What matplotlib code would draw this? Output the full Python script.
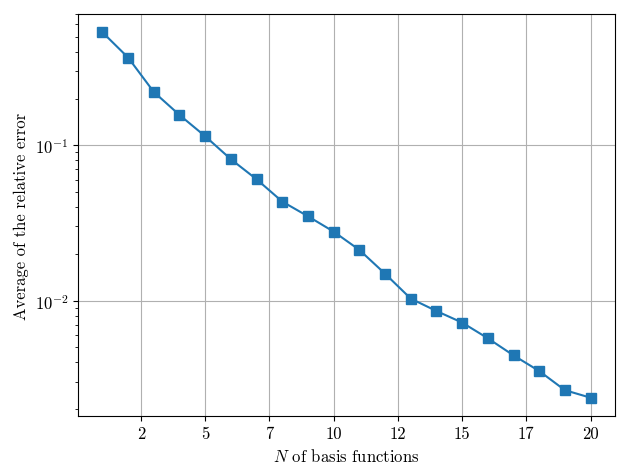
import matplotlib
matplotlib.use("Agg")
import matplotlib.pyplot as plt
from matplotlib.ticker import FormatStrFormatter

plt.rcParams["font.family"] = "serif"
plt.rcParams["font.serif"] = ["cmr10"]
plt.rcParams["mathtext.fontset"] = "cm"
plt.rcParams["axes.formatter.use_mathtext"] = True
plt.rcParams["font.size"] = 12

n_basis = list(range(1, 21))
avg_rel_error = [0.534, 0.367, 0.2204, 0.1567, 0.1143, 0.0813, 0.0604, 0.0434,
                 0.0349, 0.0278, 0.0212, 0.0149, 0.0103, 0.00857, 0.00722,
                 0.00572, 0.00444, 0.00352, 0.00265, 0.00237]

fig, ax = plt.subplots(figsize=(6.32, 4.77), dpi=100)
fig.subplots_adjust(left=0.1234, right=0.9731, top=0.9686, bottom=0.1258)

ax.plot(n_basis, avg_rel_error, marker="s", markersize=7, color="#1f77b4")
ax.set_yscale("log")
ax.xaxis.set_major_formatter(FormatStrFormatter("%d"))
ax.grid(True)
ax.set_xlabel("$N$ of basis functions")
ax.set_ylabel("Average of the relative error")

fig.savefig("out.png", dpi=100)
